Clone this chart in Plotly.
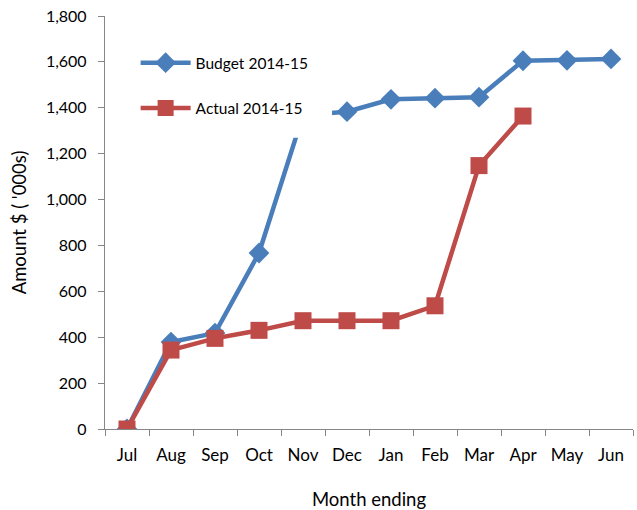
import plotly.graph_objects as go

months = ["Jul", "Aug", "Sep", "Oct", "Nov", "Dec", "Jan", "Feb", "Mar", "Apr", "May", "Jun"]
budget = [0, 379, 418, 767, 1368, 1383, 1437, 1442, 1446, 1605, 1607, 1613]
actual_months = ["Jul", "Aug", "Sep", "Oct", "Nov", "Dec", "Jan", "Feb", "Mar", "Apr"]
actual = [0, 344, 395, 430, 472, 472, 472, 537, 1148, 1364]
y_ticks = [0, 200, 400, 600, 800, 1000, 1200, 1400, 1600, 1800]

BLUE = "#4A7EBB"
RED = "#BE4B48"
FONT = "Lato"

fig = go.Figure()
fig.add_trace(go.Scatter(
    x=months, y=budget, name="Budget 2014-15", mode="lines+markers",
    line=dict(color=BLUE, width=4.5),
    marker=dict(symbol="diamond", size=16, color=BLUE),
    legend="legend",
))
fig.add_trace(go.Scatter(
    x=actual_months, y=actual, name="Actual 2014-15", mode="lines+markers",
    line=dict(color=RED, width=4.5),
    marker=dict(symbol="square", size=17, color=RED),
    legend="legend2",
))

legend_common = dict(
    bgcolor="rgba(255,255,255,0)", borderwidth=0,
    font=dict(family=FONT, size=15.5, color="#000000"),
    xanchor="left", yanchor="middle", itemwidth=50,
)

fig.update_layout(
    width=637, height=510,
    margin=dict(l=105, r=4, t=16, b=81, autoexpand=False),
    paper_bgcolor="white", plot_bgcolor="white",
    font=dict(family=FONT, size=16, color="#000000"),
    showlegend=True,
    legend=dict(x=0.058, y=0.886, **legend_common),
    legend2=dict(x=0.058, y=0.776, **legend_common),
    shapes=[dict(type="rect", xref="paper", yref="paper", layer="above",
                 x0=0.03, x1=0.43, y0=0.705, y1=0.96,
                 fillcolor="white", line=dict(width=0))],
    xaxis=dict(
        type="category", categoryorder="array", categoryarray=months,
        range=[-0.5, 11.5], automargin=False,
        showline=True, linecolor="#868686", linewidth=1.3,
        ticks="outside", tickson="boundaries", ticklen=6, tickcolor="#868686",
        ticklabelstandoff=10, tickangle=0,
        showgrid=False, zeroline=False,
        tickfont=dict(family=FONT, size=17),
        title=dict(text="Month ending", font=dict(family=FONT, size=18.5), standoff=29),
    ),
    yaxis=dict(
        range=[0, 1800], tickvals=y_ticks, tickformat=",d", automargin=False,
        showline=True, linecolor="#868686", linewidth=1.3,
        ticks="outside", ticklen=6, tickcolor="#868686",
        ticklabelstandoff=8,
        showgrid=False, zeroline=False,
        tickfont=dict(family=FONT, size=16),
        title=dict(text="Amount $ ( '000s)", font=dict(family=FONT, size=18.5), standoff=14),
    ),
)

fig.write_html("out.html", config={"displayModeBar": False},
               post_script="document.body.style.margin='0';")
